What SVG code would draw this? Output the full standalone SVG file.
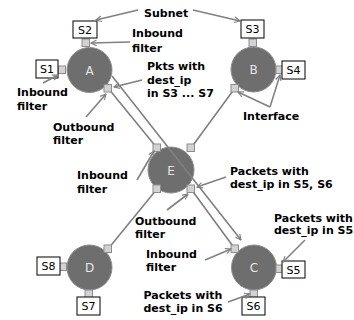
<svg xmlns="http://www.w3.org/2000/svg" width="354" height="320" viewBox="0 0 354 320">
  <defs>
    <marker id="arr" viewBox="0 0 10 10" refX="9" refY="5" markerWidth="7" markerHeight="7" orient="auto" markerUnits="userSpaceOnUse">
      <path d="M1,1 L9,5 L1,9" fill="none" stroke="#808080" stroke-width="1.6"/>
    </marker>
  </defs>
  <style>
    .link { stroke: #808080; stroke-width: 1.6; fill: none; }
    .note { stroke: #808080; stroke-width: 1.6; fill: none; marker-end: url(#arr); }
    .router { fill: #6e6e6e; stroke: #8c8c8c; stroke-width: 1; }
    .rlabel { font-family: "DejaVu Sans", sans-serif; font-size: 12px; fill: #e6e6e6; text-anchor: middle; }
    .iface { fill: #d2d2d2; stroke: #8c8c8c; stroke-width: 1; }
    .subnet { fill: #ffffff; stroke: #000000; stroke-width: 1; }
    .slabel { font-family: "DejaVu Sans", sans-serif; font-size: 11px; fill: #000000; text-anchor: middle; }
    .txt { font-family: "DejaVu Sans", sans-serif; font-weight: bold; font-size: 11px; fill: #000000; }
  </style>

  <!-- router-to-router links -->
  <g id="connectors">
    <line class="link" x1="108" y1="88" x2="157" y2="148"/>
    <line class="link" x1="235" y1="88" x2="191" y2="148"/>
    <line class="link" x1="157" y1="189" x2="108" y2="249"/>
    <line class="link" x1="191" y1="189" x2="235" y2="249"/>
  </g>

  <!-- routers with their interfaces and subnets -->
  <g id="node-A">
    <circle class="router" cx="89.5" cy="70" r="22.5"/>
    <text class="rlabel" x="89.5" y="74.5">A</text>
    <rect class="iface" x="82" y="39" width="7.5" height="7.5"/>
    <rect class="iface" x="58" y="66" width="7.5" height="7.5"/>
    <rect class="iface" x="104" y="84.5" width="7.5" height="7.5"/>
  </g>
  <g id="node-B">
    <circle class="router" cx="253.5" cy="69.5" r="22.5"/>
    <text class="rlabel" x="253.5" y="74">B</text>
    <rect class="iface" x="249" y="39" width="7.5" height="7.5"/>
    <rect class="iface" x="276" y="66" width="7.5" height="7.5"/>
    <rect class="iface" x="231" y="84.5" width="7.5" height="7.5"/>
  </g>
  <g id="node-E">
    <circle class="router" cx="171" cy="170" r="23"/>
    <text class="rlabel" x="171" y="174.5">E</text>
    <rect class="iface" x="153" y="144" width="7.5" height="7.5"/>
    <rect class="iface" x="187" y="144" width="7.5" height="7.5"/>
    <rect class="iface" x="153" y="185" width="7.5" height="7.5"/>
    <rect class="iface" x="187" y="185" width="7.5" height="7.5"/>
  </g>
  <g id="node-D">
    <circle class="router" cx="89.5" cy="267.5" r="22.5"/>
    <text class="rlabel" x="89.5" y="272">D</text>
    <rect class="iface" x="104" y="245" width="7.5" height="7.5"/>
    <rect class="iface" x="59" y="263" width="7.5" height="7.5"/>
    <rect class="iface" x="85" y="290" width="7.5" height="7.5"/>
  </g>
  <g id="node-C">
    <circle class="router" cx="254" cy="267.5" r="22.5"/>
    <text class="rlabel" x="254" y="272">C</text>
    <rect class="iface" x="231" y="245" width="7.5" height="7.5"/>
    <rect class="iface" x="276" y="265" width="7.5" height="7.5"/>
    <rect class="iface" x="250" y="290" width="7.5" height="7.5"/>
  </g>

  <g id="subnet-S1"><rect class="subnet" x="36" y="60" width="22" height="18"/><text class="slabel" x="47" y="73">S1</text></g>
  <g id="subnet-S2"><rect class="subnet" x="73" y="21" width="24" height="17"/><text class="slabel" x="85" y="33.5">S2</text></g>
  <g id="subnet-S3"><rect class="subnet" x="241" y="20" width="23" height="18"/><text class="slabel" x="252.5" y="33">S3</text></g>
  <g id="subnet-S4"><rect class="subnet" x="282" y="61" width="23" height="18"/><text class="slabel" x="293.5" y="74">S4</text></g>
  <g id="subnet-S5"><rect class="subnet" x="282" y="261" width="23" height="17"/><text class="slabel" x="293.5" y="273.5">S5</text></g>
  <g id="subnet-S6"><rect class="subnet" x="242" y="297" width="23" height="18"/><text class="slabel" x="253.5" y="310">S6</text></g>
  <g id="subnet-S7"><rect class="subnet" x="77" y="297" width="23" height="18"/><text class="slabel" x="88.5" y="310">S7</text></g>
  <g id="subnet-S8"><rect class="subnet" x="37" y="257" width="23" height="18"/><text class="slabel" x="48.5" y="270">S8</text></g>

  <!-- packet path from A to C, drawn over router E -->
  <g id="packet-path">
    <line class="note" x1="112" y1="76" x2="241" y2="240"/>
  </g>

  <!-- callout arrows -->
  <g id="callouts">
    <line class="note" x1="138" y1="10" x2="96" y2="20"/>
    <line class="note" x1="193" y1="10" x2="240" y2="21"/>
    <line class="note" x1="130" y1="42" x2="91" y2="43"/>
    <line class="note" x1="43" y1="83" x2="58" y2="75"/>
    <line class="note" x1="86" y1="117" x2="106" y2="94"/>
    <line class="note" x1="142" y1="80" x2="114" y2="87"/>
    <line class="note" x1="270" y1="107" x2="238" y2="92"/>
    <line class="note" x1="270" y1="107" x2="280" y2="75"/>
    <line class="note" x1="137" y1="180" x2="154" y2="151"/>
    <line class="note" x1="167" y1="210" x2="188" y2="194"/>
    <line class="note" x1="226" y1="177" x2="197" y2="187"/>
    <line class="note" x1="205" y1="260" x2="231" y2="249"/>
    <line class="note" x1="305" y1="240" x2="283" y2="262"/>
    <line class="note" x1="228" y1="302" x2="250" y2="294"/>
  </g>

  <!-- labels -->
  <g id="labels">
    <text class="txt" x="144" y="16.5">Subnet</text>
    <text class="txt" x="132" y="37">Inbound</text>
    <text class="txt" x="132" y="51.5">filter</text>
    <text class="txt" x="17" y="95.5">Inbound</text>
    <text class="txt" x="17" y="110">filter</text>
    <text class="txt" x="53" y="130.5">Outbound</text>
    <text class="txt" x="53" y="144">filter</text>
    <text class="txt" x="147" y="70">Pkts with</text>
    <text class="txt" x="147" y="83.5">dest_ip</text>
    <text class="txt" x="147" y="97">in S3 ... S7</text>
    <text class="txt" x="243" y="120">Interface</text>
    <text class="txt" x="77" y="179">Inbound</text>
    <text class="txt" x="77" y="193">filter</text>
    <text class="txt" x="135" y="225">Outbound</text>
    <text class="txt" x="135" y="237.5">filter</text>
    <text class="txt" x="230" y="175">Packets with</text>
    <text class="txt" x="230" y="188">dest_ip in S5, S6</text>
    <text class="txt" x="146" y="258">Inbound</text>
    <text class="txt" x="146" y="270.5">filter</text>
    <text class="txt" x="274" y="221.5">Packets with</text>
    <text class="txt" x="274" y="234">dest_ip in S5</text>
    <text class="txt" x="143.5" y="299">Packets with</text>
    <text class="txt" x="143.5" y="311.5">dest_ip in S6</text>
  </g>
</svg>
